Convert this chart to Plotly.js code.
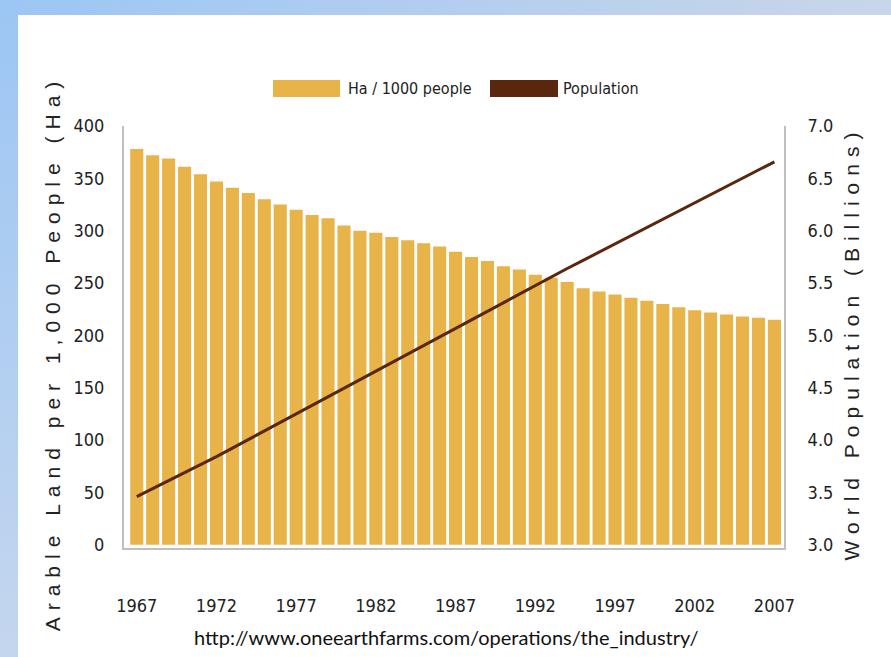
<!DOCTYPE html>
<html>
<head>
<meta charset="utf-8">
<script src="https://cdn.plot.ly/plotly-3.0.1.min.js"></script>
<style>
  html, body { margin: 0; padding: 0; width: 891px; height: 657px; overflow: hidden; background: #ffffff; }
  #topstrip { position: absolute; left: 0; top: 0; width: 891px; height: 15px;
    background: linear-gradient(to right, #9cc6f4, #c9d6e9); }
  #leftstrip { position: absolute; left: 0; top: 0; width: 18px; height: 657px;
    background: linear-gradient(to bottom, #9cc6f4, #c4d6ee); }
  #chart { position: absolute; left: 0; top: 0; width: 891px; height: 657px; }
  .g-ytitle text, .g-y2title text { letter-spacing: 7px; }
  .g-ytitle { transform: translate(0px, 16px); }
  .g-y2title { transform: translate(0px, 6px); }
</style>
</head>
<body>
<div id="topstrip"></div>
<div id="leftstrip"></div>
<div id="chart"></div>
<script>
// ---- data ----
const years = [1967, 1968, 1969, 1970, 1971, 1972, 1973, 1974, 1975, 1976,
               1977, 1978, 1979, 1980, 1981, 1982, 1983, 1984, 1985, 1986,
               1987, 1988, 1989, 1990, 1991, 1992, 1993, 1994, 1995, 1996,
               1997, 1998, 1999, 2000, 2001, 2002, 2003, 2004, 2005, 2006, 2007];
const haPer1000 = [378, 372, 369, 361, 354, 347, 341, 336, 330, 325,
                   320, 315, 312, 305, 300, 298, 294, 291, 288, 285,
                   280, 275, 271, 266, 263, 258, 255, 251, 245, 242,
                   239, 236, 233, 230, 227, 224, 222, 220, 218, 217, 215];
const populationBillions = [3.460, 3.535, 3.610, 3.685, 3.760, 3.842, 3.924, 4.006, 4.088, 4.170,
                            4.252, 4.334, 4.416, 4.498, 4.580, 4.662, 4.744, 4.826, 4.908, 4.990,
                            5.072, 5.154, 5.236, 5.318, 5.400, 5.482, 5.560, 5.639, 5.717, 5.796,
                            5.874, 5.952, 6.031, 6.109, 6.188, 6.266, 6.344, 6.423, 6.501, 6.580, 6.658];
const xTickYears = [1967, 1972, 1977, 1982, 1987, 1992, 1997, 2002, 2007];
const leftTicks = [0, 50, 100, 150, 200, 250, 300, 350, 400];
const rightTicks = [3.0, 3.5, 4.0, 4.5, 5.0, 5.5, 6.0, 6.5, 7.0];
const seriesNames = ["Ha / 1000 people", "Population"];
const sourceText = "http://www.oneearthfarms.com/operations/the_industry/";

// ---- styling ----
const barColor = "#e8b348";
const lineColor = "#5a260c";
const axisGray = "#bfbfbf";
const narrow = "'DejaVu Sans Condensed', 'Liberation Sans', Arial, sans-serif";
const sans = "'Liberation Sans', Arial, sans-serif";

const W = 891, H = 657;
const M = {l: 124, r: 107, t: 126, b: 109};
const plotW = W - M.l - M.r, plotH = H - M.t - M.b;
// pixel -> paper helpers (for legend / source decorations only)
const px = x => (x - M.l) / plotW;
const py = y => (H - M.b - y) / plotH;

const traces = [
  {
    type: "bar", x: years, y: haPer1000, name: seriesNames[0],
    marker: {color: barColor, line: {width: 0}}, yaxis: "y", showlegend: false
  },
  {
    type: "scatter", mode: "lines", x: years, y: populationBillions, name: seriesNames[1],
    line: {color: lineColor, width: 3}, yaxis: "y2", showlegend: false
  }
];

const layout = {
  width: W, height: H,
  margin: M,
  paper_bgcolor: "rgba(0,0,0,0)",
  plot_bgcolor: "#ffffff",
  bargap: 0.18,
  showlegend: false,
  font: {family: narrow, color: "#222222", size: 18},
  xaxis: {
    type: "linear", range: [1966.2, 2007.6],
    tickmode: "array", tickvals: xTickYears, ticktext: xTickYears.map(String),
    ticks: "", showgrid: false, zeroline: false,
    showline: true, linecolor: axisGray, linewidth: 2,
    ticklabelstandoff: 40,
    tickfont: {family: narrow, size: 18, color: "#222222"}
  },
  yaxis: {
    range: [-3, 400],
    tickmode: "array", tickvals: leftTicks,
    ticks: "", showgrid: false, zeroline: false,
    showline: true, linecolor: axisGray, linewidth: 2,
    ticklabelstandoff: 14,
    tickfont: {family: narrow, size: 18, color: "#222222"},
    title: {text: "Arable Land per 1,000 People (Ha)", standoff: 7,
            font: {family: sans, size: 21, color: "#222222"}}
  },
  yaxis2: {
    overlaying: "y", side: "right",
    range: [2.97, 7.0],
    tickmode: "array", tickvals: rightTicks, ticktext: rightTicks.map(v => v.toFixed(1)),
    ticks: "", showgrid: false, zeroline: false,
    showline: true, linecolor: axisGray, linewidth: 2,
    ticklabelstandoff: 18,
    tickfont: {family: narrow, size: 18, color: "#222222"},
    title: {text: "World Population (Billions)", standoff: 12,
            font: {family: sans, size: 21, color: "#222222"}}
  },
  shapes: [
    {type: "rect", xref: "paper", yref: "paper", x0: px(273), x1: px(340), y0: py(97), y1: py(80),
     fillcolor: barColor, line: {width: 0}},
    {type: "rect", xref: "paper", yref: "paper", x0: px(490), x1: px(558), y0: py(97), y1: py(80),
     fillcolor: lineColor, line: {width: 0}}
  ],
  annotations: [
    {xref: "paper", yref: "paper", x: px(346), y: py(88.5), xanchor: "left", yanchor: "middle",
     text: seriesNames[0], showarrow: false, font: {family: narrow, size: 16, color: "#222222"}},
    {xref: "paper", yref: "paper", x: px(561), y: py(88.5), xanchor: "left", yanchor: "middle",
     text: seriesNames[1], showarrow: false, font: {family: narrow, size: 16, color: "#222222"}},
    {xref: "paper", yref: "paper", x: px(446), y: py(637), xanchor: "center", yanchor: "middle",
     text: sourceText, showarrow: false, font: {family: "Lato, 'Open Sans', sans-serif", size: 20, color: "#111111"}}
  ]
};

Plotly.newPlot("chart", traces, layout, {staticPlot: true, displayModeBar: false});
</script>
</body>
</html>
